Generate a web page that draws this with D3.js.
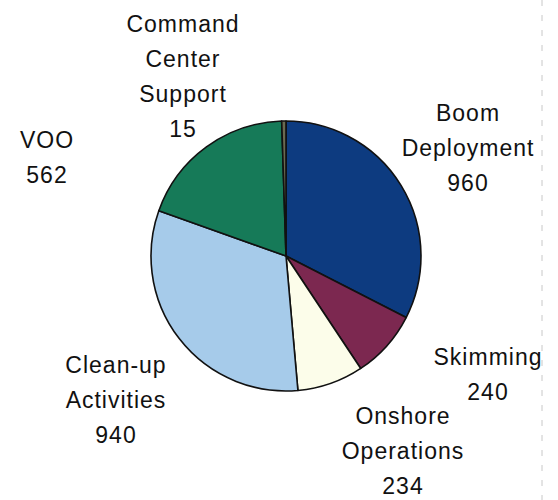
<!DOCTYPE html>
<html>
<head>
<meta charset="utf-8">
<script src="https://cdn.jsdelivr.net/npm/d3@7"></script>
<style>
    body { margin: 0; background: #fff; }
    text { font-family: "Liberation Sans", Arial, sans-serif; font-size: 23px; letter-spacing: 1px; fill: #111; }
</style>
</head>
<body>
<script>
(function(){

    //chart data, clockwise from 12 o'clock
    var categories = ["Boom Deployment", "Skimming", "Onshore Operations", "Clean-up Activities", "VOO", "Command Center Support"];
    var values = [960, 240, 234, 940, 562, 15];
    var labelLines = [["Boom", "Deployment"], ["Skimming"], ["Onshore", "Operations"], ["Clean-up", "Activities"], ["VOO"], ["Command", "Center", "Support"]];
    var colors = ["#0d3b80", "#7c2850", "#fcfdea", "#a6cbea", "#167a58", "#6a6a52"];

    //label anchor (first baseline) for each slice
    var labelPos = [[468, 121], [488, 365], [403, 424], [116, 373], [47, 148], [183, 32]];
    var lineStep = 35;

    var width = 558,
        height = 500;

    var svg = d3.select("body")
        .append("svg")
        .attr("width", width)
        .attr("height", height);

    //pie layout
    var pie = d3.pie()
        .sort(null)
        .startAngle(0)
        .endAngle(2 * Math.PI)
        .value(function(d){ return d; });

    var arc = d3.arc()
        .innerRadius(0)
        .outerRadius(135);

    var g = svg.append("g")
        .attr("transform", "translate(286,256)");

    g.selectAll(".slice")
        .data(pie(values))
        .enter()
        .append("path")
        .attr("class", "slice")
        .attr("d", arc)
        .style("fill", function(d, i){ return colors[i]; })
        .style("stroke", "#111")
        .style("stroke-width", 1.6)
        .style("stroke-linejoin", "round");

    //labels: name lines then value
    var labels = svg.selectAll(".label")
        .data(categories)
        .enter()
        .append("text")
        .attr("class", "label")
        .attr("text-anchor", "middle")
        .attr("x", function(d, i){ return labelPos[i][0]; })
        .attr("y", function(d, i){ return labelPos[i][1]; });

    labels.each(function(d, i){
        var t = d3.select(this);
        var lines = labelLines[i].concat([String(values[i])]);
        lines.forEach(function(line, j){
            t.append("tspan")
                .attr("x", labelPos[i][0])
                .attr("y", labelPos[i][1] + j * lineStep)
                .text(line);
        });
    });

    //faint scan edge on the right
    svg.append("line")
        .attr("x1", 542).attr("x2", 542)
        .attr("y1", 0).attr("y2", height)
        .style("stroke", "#c8c8c8")
        .style("stroke-width", 1)
        .style("stroke-dasharray", "6,9");

})();
</script>
</body>
</html>
